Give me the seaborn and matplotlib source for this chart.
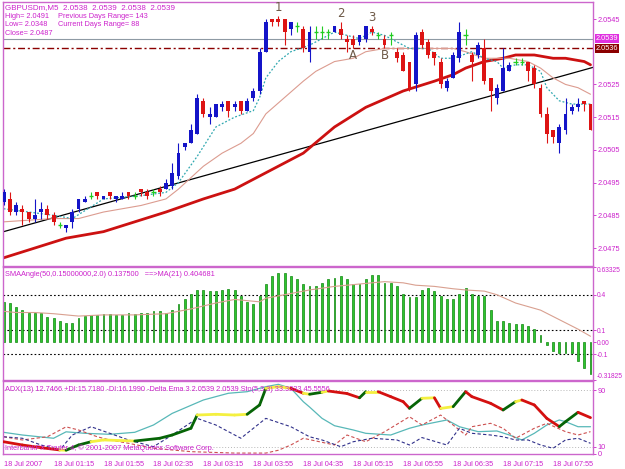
import numpy as np
import pandas as pd
import seaborn as sns
import matplotlib.pyplot as plt
import matplotlib.transforms as mtransforms

# ---- candles GBPUSDm M5, 18 Jul 2007 (one row per bar) ----
opens = [2.0489, 2.0490, 2.0486, 2.0487, 2.0486, 2.0484, 2.0486, 2.0487, 2.0485, 2.0482,
         2.0481, 2.0483, 2.0487, 2.0489, 2.0491, 2.0492, 2.0490, 2.0492, 2.0490, 2.0490,
         2.0492, 2.0491, 2.0493, 2.0492, 2.0492, 2.0493, 2.0493, 2.0494, 2.0497, 2.0506,
         2.0507, 2.0510, 2.0520, 2.0515, 2.0515, 2.0518, 2.0520, 2.0518, 2.0520, 2.0517,
         2.0521, 2.0523, 2.0535, 2.0545, 2.0545, 2.0545, 2.0542, 2.0543, 2.0542, 2.0535,
         2.0541, 2.0541, 2.0541, 2.0541, 2.0542, 2.0539, 2.0539, 2.0538, 2.0539, 2.0542,
         2.0540, 2.0539, 2.0540, 2.0535, 2.0534, 2.0532, 2.0525, 2.0541, 2.0538, 2.0535,
         2.0532, 2.0524, 2.0527, 2.0533, 2.0540, 2.0534, 2.0534, 2.0536, 2.0527, 2.0521,
         2.0523, 2.0529, 2.0532, 2.0532, 2.0532, 2.0530, 2.0524, 2.0516, 2.0511, 2.0507,
         2.0511, 2.0517, 2.0518, 2.0520, 2.0519]
highs = [2.0493, 2.0492, 2.0489, 2.0488, 2.0486, 2.0490, 2.0489, 2.0488, 2.0486, 2.0483,
         2.0482, 2.0487, 2.0490, 2.0491, 2.0492, 2.0492, 2.0491, 2.0492, 2.0491, 2.0492,
         2.0492, 2.0492, 2.0493, 2.0493, 2.0493, 2.0494, 2.0496, 2.0501, 2.0507, 2.0507,
         2.0513, 2.0522, 2.0521, 2.0518, 2.0519, 2.0520, 2.0520, 2.0520, 2.0520, 2.0521,
         2.0524, 2.0536, 2.0545, 2.0545, 2.0546, 2.0545, 2.0544, 2.0544, 2.0543, 2.0543,
         2.0543, 2.0543, 2.0542, 2.0543, 2.0544, 2.0540, 2.0540, 2.0540, 2.0543, 2.0543,
         2.0541, 2.0540, 2.0541, 2.0536, 2.0535, 2.0532, 2.0541, 2.0542, 2.0539, 2.0535,
         2.0533, 2.0527, 2.0535, 2.0544, 2.0542, 2.0535, 2.0538, 2.0539, 2.0527, 2.0525,
         2.0536, 2.0532, 2.0533, 2.0533, 2.0532, 2.0531, 2.0525, 2.0518, 2.0511, 2.0513,
         2.0521, 2.0519, 2.0521, 2.0520, 2.0519]
lows = [2.0488, 2.0485, 2.0485, 2.0482, 2.0483, 2.0483, 2.0484, 2.0484, 2.0482, 2.0481,
        2.0480, 2.0481, 2.0486, 2.0489, 2.0490, 2.0490, 2.0490, 2.0490, 2.0489, 2.0490,
        2.0490, 2.0490, 2.0491, 2.0490, 2.0491, 2.0491, 2.0493, 2.0493, 2.0496, 2.0505,
        2.0507, 2.0510, 2.0515, 2.0513, 2.0515, 2.0517, 2.0515, 2.0517, 2.0516, 2.0517,
        2.0520, 2.0522, 2.0535, 2.0543, 2.0543, 2.0537, 2.0540, 2.0541, 2.0535, 2.0532,
        2.0539, 2.0539, 2.0539, 2.0541, 2.0539, 2.0535, 2.0536, 2.0537, 2.0538, 2.0540,
        2.0539, 2.0536, 2.0537, 2.0532, 2.0529, 2.0523, 2.0523, 2.0536, 2.0533, 2.0531,
        2.0524, 2.0523, 2.0527, 2.0532, 2.0537, 2.0526, 2.0533, 2.0525, 2.0517, 2.0519,
        2.0523, 2.0529, 2.0531, 2.0531, 2.0526, 2.0524, 2.0515, 2.0507, 2.0507, 2.0504,
        2.0510, 2.0516, 2.0517, 2.0517, 2.0511]
closes = [2.0492, 2.0486, 2.0488, 2.0486, 2.0484, 2.0485, 2.0487, 2.0485, 2.0483, 2.0482,
          2.0482, 2.0486, 2.0490, 2.0490, 2.0491, 2.0491, 2.0491, 2.0491, 2.0491, 2.0491,
          2.0491, 2.0491, 2.0492, 2.0491, 2.0492, 2.0492, 2.0495, 2.0498, 2.0504, 2.0507,
          2.0511, 2.0521, 2.0516, 2.0516, 2.0519, 2.0519, 2.0517, 2.0519, 2.0517, 2.0520,
          2.0523, 2.0535, 2.0544, 2.0544, 2.0544, 2.0541, 2.0544, 2.0543, 2.0536, 2.0541,
          2.0541, 2.0541, 2.0541, 2.0543, 2.0540, 2.0538, 2.0537, 2.0540, 2.0543, 2.0541,
          2.0540, 2.0537, 2.0540, 2.0533, 2.0529, 2.0524, 2.0540, 2.0537, 2.0534, 2.0533,
          2.0525, 2.0526, 2.0534, 2.0541, 2.0540, 2.0532, 2.0537, 2.0526, 2.0523, 2.0524,
          2.0530, 2.0531, 2.0532, 2.0532, 2.0529, 2.0525, 2.0516, 2.0510, 2.0509, 2.0512,
          2.0516, 2.0518, 2.0519, 2.0519, 2.0511]

# moving averages on the price chart (bar index, value)
fast_idx = [0, 4, 8, 11, 16, 22, 26, 28, 31, 34, 37, 40, 41, 42, 44, 46, 49, 51, 53, 55,
            57, 59, 61, 63, 65, 68, 70, 72, 75, 77, 79, 80, 82, 84, 86, 87, 89, 91, 94]
fast_ma = [2.0487, 2.0486, 2.0485, 2.0484, 2.0490, 2.0491, 2.0492, 2.0495, 2.0503, 2.0512,
           2.0515, 2.0517, 2.0521, 2.0527, 2.0532, 2.0535, 2.0537, 2.0539, 2.0541, 2.0540,
           2.0539, 2.0541, 2.0540, 2.0538, 2.0536, 2.0536, 2.0533, 2.0533, 2.0535, 2.0533,
           2.0532, 2.0530, 2.0531, 2.0531, 2.0529, 2.0524, 2.0520, 2.0519, 2.0519]
mid_idx = [0, 8, 12, 16, 22, 26, 28, 32, 35, 38, 40, 42, 45, 48, 50, 53, 56, 58, 61, 63,
           66, 69, 72, 74, 77, 81, 84, 86, 88, 90, 92, 94]
mid_ma = [2.0483, 2.0484, 2.0484, 2.0486, 2.0488, 2.0490, 2.0493, 2.0500, 2.0504, 2.0507,
          2.0510, 2.0516, 2.0521, 2.0526, 2.0529, 2.0532, 2.0533, 2.0535, 2.0536, 2.0536,
          2.0536, 2.0536, 2.0536, 2.0535, 2.0533, 2.0533, 2.0532, 2.0530, 2.0527, 2.0525,
          2.0524, 2.0522]
slow_idx = [0, 5, 10, 16, 21, 26, 32, 37, 42, 48, 53, 58, 64, 69, 72, 74, 77, 80, 82, 85,
            88, 90, 93, 94]
slow_ma = [2.0472, 2.0475, 2.0478, 2.0480, 2.0483, 2.0486, 2.0490, 2.0493, 2.0498, 2.0504,
           2.0512, 2.0518, 2.0523, 2.0526, 2.0528, 2.0530, 2.0532, 2.0533, 2.0534, 2.0534,
           2.0533, 2.0533, 2.0532, 2.0531]
trend_idx = [0, 94]
trend_price = [2.0480, 2.0530]
level_solid = 2.0539
level_dashdot = 2.0536
price_ticks = [2.0545, 2.0525, 2.0515, 2.0505, 2.0495, 2.0485, 2.0475]

mark_text = ['1', '2', '3', 'A', 'B']
mark_idx = [44, 54, 59, 56, 61]
mark_price = [2.05484, 2.05468, 2.05456, 2.05337, 2.05337]

# SMAAngle histogram + MA(21)
angle = [0.34, 0.33, 0.30, 0.27, 0.25, 0.25, 0.25, 0.21, 0.20, 0.18,
         0.16, 0.16, 0.20, 0.22, 0.23, 0.23, 0.24, 0.24, 0.23, 0.23,
         0.25, 0.24, 0.25, 0.25, 0.26, 0.26, 0.25, 0.27, 0.32, 0.36,
         0.41, 0.44, 0.44, 0.43, 0.43, 0.44, 0.45, 0.44, 0.39, 0.34,
         0.32, 0.39, 0.49, 0.56, 0.58, 0.58, 0.56, 0.53, 0.49, 0.47,
         0.47, 0.50, 0.53, 0.54, 0.56, 0.53, 0.49, 0.49, 0.53, 0.57,
         0.57, 0.50, 0.50, 0.47, 0.41, 0.38, 0.38, 0.44, 0.46, 0.43,
         0.39, 0.36, 0.36, 0.41, 0.46, 0.41, 0.39, 0.39, 0.27, 0.18,
         0.18, 0.16, 0.15, 0.15, 0.14, 0.11, 0.06, -0.02, -0.07, -0.09,
         -0.09, -0.09, -0.16, -0.22, -0.27]
angle_ma_idx = [0, 2, 5, 8, 12, 16, 21, 26, 30, 34, 37, 39, 41, 42, 46, 49, 53, 57, 61, 64,
                66, 69, 72, 74, 77, 79, 82, 86, 89, 92, 94]
angle_ma = [0.26, 0.25, 0.25, 0.24, 0.22, 0.23, 0.23, 0.24, 0.28, 0.33, 0.36, 0.35, 0.34,
            0.37, 0.41, 0.44, 0.47, 0.49, 0.51, 0.50, 0.48, 0.47, 0.45, 0.44, 0.43, 0.40,
            0.33, 0.27, 0.19, 0.11, 0.05]
angle_levels = [0.4, 0.1, -0.1]
angle_ticks = [0.63325, 0.4, 0.1, 0.0, -0.1, -0.31825]
angle_ticklabels = ['0.63325', '0.4', '0.1', '0.00', '-0.1', '-0.31825']

# ADX / DI / Stochastic panel
stoch_idx = [0, 3, 6, 9, 10, 12, 14, 16, 21, 25, 27, 30, 31, 34, 37, 39, 41, 42, 44, 46,
             48, 49, 51, 52, 55, 57, 58, 60, 62, 64, 65, 67, 69, 70, 72, 74, 75, 78, 80, 82,
             83, 85, 87, 89, 90, 92, 94]
stoch = [17, 12.4, 8.6, 5.4, 5, 12.4, 17, 19.5, 18, 21.9, 26.5, 36, 54.7, 55.7, 54.7, 55.7,
         68.9, 92.4, 94.7, 92.4, 85.4, 84, 86.8, 88.6, 85, 79, 87.6, 87.6, 80.6, 73.5, 64.2,
         78.3, 79, 64, 66.5, 87.6, 80.6, 71.2, 61.8, 73.5, 75.9, 68.9, 50, 38.3, 45.3, 58.5, 51]
adx_idx = [0, 3, 8, 10, 13, 17, 21, 24, 27, 32, 36, 39, 42, 44, 46, 48, 49, 51, 53, 56,
           58, 62, 65, 67, 71, 73, 76, 79, 81, 83, 85, 87, 89, 90, 92, 94]
adx = [30.3, 26.5, 21.9, 31, 28.9, 27.5, 30.3, 40.6, 57, 75.9, 85.4, 87.6, 94.7, 98, 92.4,
       73.5, 66, 50, 39.6, 33.6, 28.9, 26.5, 36, 40.6, 47.7, 38.2, 31.2, 32.2, 26.5, 19.5,
       28.9, 40.6, 47.7, 45.3, 38.2, 38.2]
pdi_idx = [0, 3, 7, 10, 12, 15, 17, 20, 24, 30, 37, 42, 44, 46, 48, 53, 55, 58, 61, 65,
           67, 70, 72, 74, 75, 78, 80, 82, 85, 87, 90, 92, 94]
pdi = [24, 19.5, 24, 38, 33.6, 24, 19.5, 14.8, 7.8, 3, 1, 1, 5, 12.4, 21.9, 12.4, 26.5, 17,
       31, 52.3, 40.6, 54.7, 40.6, 26.5, 38.2, 43, 36, 21.9, 36, 43, 31.2, 26.5, 31.2]
mdi_idx = [0, 3, 6, 9, 11, 14, 17, 20, 24, 27, 31, 34, 38, 42, 46, 49, 51, 54, 56, 59,
           63, 65, 67, 71, 73, 75, 78, 80, 82, 84, 86, 88, 90, 92, 94]
mdi = [24, 21.9, 12.4, 5.4, 26.5, 38.2, 28.9, 19.5, 10, 26.5, 50, 40.6, 21.9, 50, 38.2, 24,
       19.5, 10, 17, 21.9, 19.5, 12.4, 22.9, 12.4, 36, 28.9, 26.5, 24, 19.5, 19.5, 12.4, 7.8,
       19.5, 21.9, 14.8]
adx_levels = [90, 10]

time_idx = [0, 8, 16, 24, 32, 40, 48, 56, 64, 72, 80, 88]
time_labels = ['18 Jul 2007', '18 Jul 01:15', '18 Jul 01:55', '18 Jul 02:35', '18 Jul 03:15',
               '18 Jul 03:55', '18 Jul 04:35', '18 Jul 05:15', '18 Jul 05:55', '18 Jul 06:35',
               '18 Jul 07:15', '18 Jul 07:55']

header = ['GBPUSDm,M5  2.0538  2.0539  2.0538  2.0539', 'High= 2.0491', 'Low= 2.0348', 'Close= 2.0487']
header_right = ['Previous Days Range= 143', 'Current Days Range= 88']

# ---------------------------------------------------------------
sns.set_style('white')
plt.rcParams['font.family'] = ['Liberation Sans', 'DejaVu Sans']
plt.rcParams['font.size'] = 5.3

MAG = '#cc22cc'
FRAME = '#cc66cc'
W, H = 625, 469
fig = plt.figure(figsize=(6.25, 4.69), dpi=100)


def rect(x0, y0, x1, y1):
    return [x0 / W, 1 - y1 / H, (x1 - x0) / W, (y1 - y0) / H]


ax1 = fig.add_axes(rect(3, 2, 593, 266))
ax2 = fig.add_axes(rect(3, 267, 593, 380))
ax3 = fig.add_axes(rect(3, 381, 593, 454))

bars = pd.DataFrame({'o': opens, 'h': highs, 'l': lows, 'c': closes})
bars['i'] = np.arange(len(bars))
doji = np.isclose(bars.c, bars.o)
up = (bars.c > bars.o) & ~doji
dn = (bars.c < bars.o) & ~doji

# price chart
ax1.axhline(level_solid, color='#8e9aa4', lw=0.8, zorder=1)
ax1.axhline(level_dashdot, color='#8b0000', lw=1.0, ls=(0, (5, 2, 1.5, 2)), zorder=1)
ax1.axline((trend_idx[0], trend_price[0]), (trend_idx[1], trend_price[1]), color='black', lw=0.9, zorder=2)
sns.lineplot(x=slow_idx, y=slow_ma, ax=ax1, color='#cc1111', lw=2.0, zorder=2)
sns.lineplot(x=mid_idx, y=mid_ma, ax=ax1, color='#dc9c90', lw=0.8, zorder=2)
sns.lineplot(x=fast_idx, y=fast_ma, ax=ax1, color='#30a8b0', lw=0.9, ls=(0, (1.5, 1.5)), zorder=2)

for mask, col in [(up, '#1414c8'), (dn, '#dd1414')]:
    b = bars[mask]
    ax1.vlines(b.i, b.l, b.h, color=col, lw=0.8, zorder=3)
    ax1.bar(b.i, b.c - b.o, bottom=b.o, width=0.62, color=col, linewidth=0, zorder=4)
b = bars[doji]
ax1.vlines(b.i, b.l, b.h, color='#22cc22', lw=0.8, zorder=3)
ax1.hlines(b.c, b.i - 0.35, b.i + 0.35, color='#22cc22', lw=1.0, zorder=4)

for t, i, p in zip(mark_text, mark_idx, mark_price):
    ax1.text(i, p, t, color='#6e5a48', fontsize=8.5, ha='center', va='center',
             family=['DejaVu Sans'], zorder=5)

ax1.set_xlim(-0.1, 94.4)
ax1.set_ylim(2.04695, 2.05502)
ax1.set_xticks([])
ax1.yaxis.tick_right()
ax1.set_yticks(price_ticks)
ax1.set_yticklabels([f'{v:.4f}' for v in price_ticks])

tr = mtransforms.blended_transform_factory(ax1.transAxes, ax1.transData)
ax1.text(1.005, level_solid, f'{level_solid:.4f}', transform=tr, color='white', va='center',
         ha='left', bbox=dict(facecolor='#e030e0', edgecolor='none', pad=0.6), clip_on=False)
ax1.text(1.005, level_dashdot, f'{level_dashdot:.4f}', transform=tr, color='white', va='center',
         ha='left', bbox=dict(facecolor='#8b0000', edgecolor='none', pad=0.6), clip_on=False)

# SMAAngle panel
sns.barplot(x=list(bars.i), y=angle, ax=ax2, native_scale=True, color='#2ec42e', width=0.3,
            saturation=1, errorbar=None, edgecolor='#0e880e', linewidth=0.5)
sns.lineplot(x=angle_ma_idx, y=angle_ma, ax=ax2, color='#d9a090', lw=0.8)
for v in angle_levels:
    ax2.axhline(v, color='black', lw=0.8, ls=(0, (1.5, 2)), zorder=0)
ax2.set_xlim(-0.1, 94.4)
ax2.set_ylim(-0.31825, 0.63325)
ax2.set_xticks([])
ax2.yaxis.tick_right()
ax2.set_yticks(angle_ticks)
ax2.set_yticklabels(angle_ticklabels)
labs = ax2.get_yticklabels()
labs[0].set_va('top')
labs[-1].set_va('bottom')

# ADX panel
for v in adx_levels:
    ax3.axhline(v, color='#b8b8b8', lw=0.7, ls=(0, (1, 2)), zorder=0)
sns.lineplot(x=adx_idx, y=adx, ax=ax3, color='#58b8b8', lw=0.9)
sns.lineplot(x=pdi_idx, y=pdi, ax=ax3, color='#cc5050', lw=0.8, ls=(0, (3, 2)))
sns.lineplot(x=mdi_idx, y=mdi, ax=ax3, color='#30308a', lw=0.8, ls=(0, (3, 2)))
for k in range(len(stoch) - 1):
    d = stoch[k + 1] - stoch[k]
    col = '#f4f040' if abs(d) < 2.6 else ('#066406' if d > 0 else '#d41010')
    ax3.plot(stoch_idx[k:k + 2], stoch[k:k + 2], color=col, lw=2.0, solid_capstyle='round', zorder=3)
ax3.set_xlim(-0.1, 94.4)
ax3.set_ylim(-0.3, 102.7)
ax3.yaxis.tick_right()
ax3.set_yticks([90, 10, 0])
ax3.set_yticklabels(['90', '10', '0'])
ax3.set_xticks(time_idx)
ax3.set_xticklabels(time_labels)
for lab in ax3.get_xticklabels():
    lab.set_ha('left')

for ax in (ax1, ax2, ax3):
    ax.set_xlabel('')
    ax.set_ylabel('')
    for s in ax.spines.values():
        s.set_color(FRAME)
        s.set_linewidth(1.0)
    ax.tick_params(axis='both', colors=MAG, labelcolor=MAG, length=2, width=0.6, pad=1.5,
                   labelsize=5.3)
ax1.tick_params(axis='x', length=0)
ax2.tick_params(axis='x', length=0)
ax2.tick_params(axis='y', labelsize=4.8, pad=1)
ax3.tick_params(axis='x', pad=3)

# texts
def fx(x, y):
    return x / W, 1 - y / H


fig.text(*fx(5, 8), header[0], color=MAG, va='center', fontsize=5.8)
for k, t in enumerate(header[1:]):
    fig.text(*fx(5, 16.5 + 8.5 * k), t, color=MAG, va='center')
for k, t in enumerate(header_right):
    fig.text(*fx(58, 16.5 + 8.5 * k), t, color=MAG, va='center')
fig.text(*fx(5, 275), 'SMAAngle(50,0.15000000,2.0) 0.137500   ==>MA(21) 0.404681', color=MAG, va='center')
fig.text(*fx(5, 389), 'ADX(13) 12.7466 +DI:15.7180 -DI:16.1990 -Delta Ema 3 2.0539 2.0539 Sto(5,3,3) 33.3333 45.5556',
         color=MAG, va='center')
fig.text(*fx(5, 448), 'InterbankFX Trader 4, \u00a9 2001-2007 MetaQuotes Software Corp.', color=MAG, va='center')

fig.savefig('out.png', dpi=100)
